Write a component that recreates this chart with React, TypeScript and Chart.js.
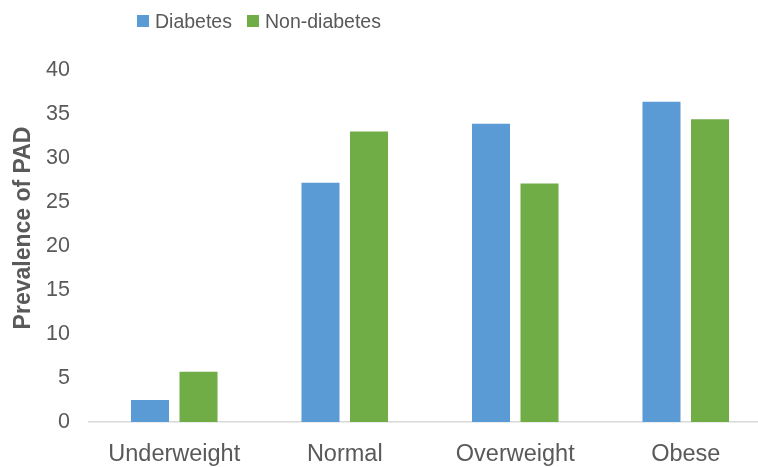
import React, { useEffect, useRef } from "react";
import { Chart, registerables } from "chart.js";

Chart.register(...registerables);

const categories = ["Underweight", "Normal", "Overweight", "Obese"];
const diabetes = [2.5, 27.2, 33.9, 36.4];
const nonDiabetes = [5.7, 33.0, 27.1, 34.4];
const seriesLabels = ["Diabetes", "Non-diabetes"];
const seriesColors = ["#5B9BD5", "#70AD47"];
const yTitle = "Prevalence of PAD";

const FONT = "'Liberation Sans', Arial, Helvetica, sans-serif";
const TEXT = "#595959";

const customPlugin = {
  id: "customLegendTitle",
  afterDraw(chart: any) {
    const ctx = chart.ctx;
    ctx.save();
    // legend
    ctx.font = `19.5px ${FONT}`;
    ctx.textBaseline = "alphabetic";
    ctx.textAlign = "left";
    let x = 137;
    chart.data.datasets.forEach((ds: any) => {
      ctx.fillStyle = ds.backgroundColor;
      ctx.fillRect(x, 15, 12, 12);
      ctx.fillStyle = TEXT;
      ctx.fillText(ds.label, x + 18, 27.5);
      x += 18 + ctx.measureText(ds.label).width + 15;
    });
    // y title
    ctx.font = `bold 23px ${FONT}`;
    ctx.fillStyle = TEXT;
    ctx.translate(24, 228);
    ctx.rotate(-Math.PI / 2);
    ctx.textAlign = "center";
    ctx.textBaseline = "middle";
    ctx.fillText(yTitle, 0, 0);
    ctx.restore();
  },
};

export default function App() {
  const ref = useRef<HTMLCanvasElement>(null);
  useEffect(() => {
    const chart = new Chart(ref.current!, {
      type: "bar",
      data: {
        labels: categories,
        datasets: [
          { label: seriesLabels[0], data: diabetes, backgroundColor: seriesColors[0] },
          { label: seriesLabels[1], data: nonDiabetes, backgroundColor: seriesColors[1] },
        ],
      },
      options: {
        animation: false,
        responsive: false,
        maintainAspectRatio: false,
        layout: { padding: { top: 70, left: 0, right: 0, bottom: 0 } },
        datasets: { bar: { categoryPercentage: 0.569, barPercentage: 0.784 } },
        plugins: {
          legend: { display: false },
          tooltip: { enabled: false },
        },
        scales: {
          x: {
            grid: { display: false, drawTicks: false },
            border: { display: true, color: "#D9D9D9", width: 1.5 },
            ticks: { color: TEXT, font: { family: FONT, size: 23.5 }, padding: 18, maxRotation: 0 },
            afterFit(scale: any) {
              scale.height = 45;
            },
          },
          y: {
            min: 0,
            max: 40,
            grid: { display: false, drawTicks: false },
            border: { display: false },
            ticks: { stepSize: 5, color: TEXT, font: { family: FONT, size: 21.5 }, padding: 19 },
            afterFit(scale: any) {
              scale.width = 89;
            },
          },
        },
      },
      plugins: [customPlugin],
    } as any);
    return () => chart.destroy();
  }, []);
  return (
    <div style={{ position: "fixed", left: 0, top: 0, width: 758, height: 467, overflow: "hidden", background: "#fff" }}>
      <canvas ref={ref} width={771} height={467} style={{ display: "block", width: 771, height: 467 }} />
    </div>
  );
}
